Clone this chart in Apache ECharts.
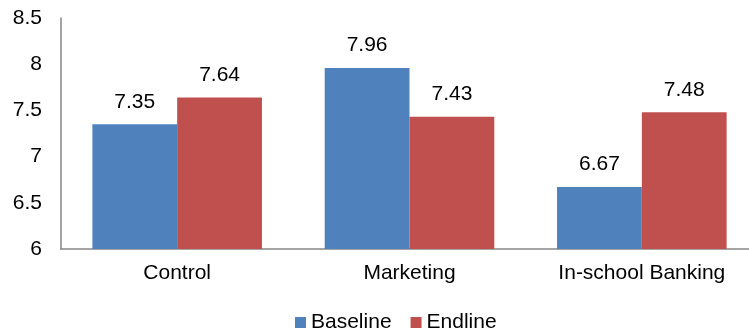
<!DOCTYPE html>
<html><head><meta charset="utf-8">
<script src="https://cdn.jsdelivr.net/npm/echarts@6/dist/echarts.min.js"></script>
<style>html,body{margin:0;padding:0;background:#fff}#c{width:749px;height:334px}</style>
</head><body><div id="c"></div>
<script>
var categories = ['Control', 'Marketing', 'In-school Banking'];
var baseline = [7.35, 7.96, 6.67];
var endline = [7.64, 7.43, 7.48];
var seriesNames = ['Baseline', 'Endline'];

var chart = echarts.init(document.getElementById('c'), null, {renderer: 'canvas'});
var font = 'Liberation Sans, Arial, sans-serif';
var lbl = {show: true, position: 'top', distance: 12, color: '#000', fontSize: 21, fontFamily: font,
  formatter: function(p){ return p.value.toFixed(2); }};
chart.setOption({
  animation: false,
  grid: {left: 61, width: 697, top: 18, height: 231, containLabel: false, outerBoundsMode: 'none'},
  legend: {top: 312, left: 295, padding: 0, itemWidth: 11, itemHeight: 11, itemGap: 19,
    textStyle: {fontSize: 21, fontFamily: font, color: '#000'}, icon: 'rect',
    data: seriesNames},
  xAxis: {type: 'category', data: categories,
    axisLine: {lineStyle: {color: '#868686', width: 1.5}}, axisTick: {show: false},
    axisLabel: {color: '#000', fontSize: 21, fontFamily: font, margin: 14}},
  yAxis: {type: 'value', min: 6, max: 8.5, interval: 0.5,
    axisLine: {show: true, lineStyle: {color: '#868686', width: 1.5}}, axisTick: {show: false},
    splitLine: {show: false},
    axisLabel: {color: '#000', fontSize: 21, fontFamily: font, margin: 19}},
  series: [
    {name: seriesNames[0], type: 'bar', data: baseline, barGap: '0%', barCategoryGap: '27%',
      itemStyle: {color: '#4F81BD'}, label: lbl},
    {name: seriesNames[1], type: 'bar', data: endline,
      itemStyle: {color: '#C0504D'}, label: lbl}
  ]
});
</script></body></html>
